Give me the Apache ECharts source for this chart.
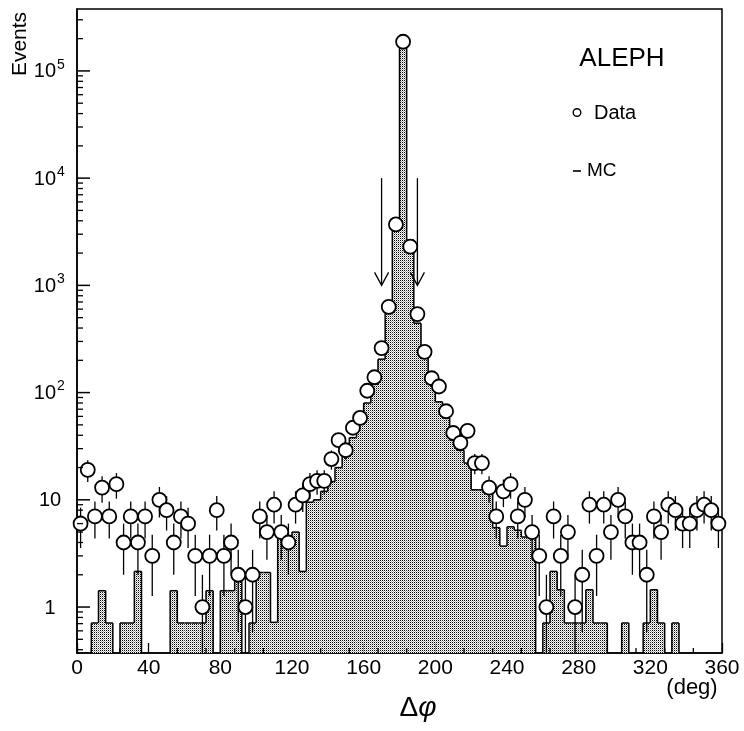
<!DOCTYPE html>
<html><head><meta charset="utf-8">
<script src="https://cdn.jsdelivr.net/npm/echarts/dist/echarts.min.js"></script>
<style>html,body{margin:0;padding:0;background:#fff}#c{width:744px;height:731px}</style>
</head><body><div id="c"></div>
<script>
// ---- data ----
const binWidth = 4;
const binLow = [0,4,8,12,16,20,24,28,32,36,40,44,48,52,56,60,64,68,72,76,80,84,88,92,96,100,104,108,112,116,
  120,124,128,132,136,140,144,148,152,156,160,164,168,172,176,180,184,188,192,196,200,204,208,212,216,220,224,228,232,236,
  240,244,248,252,256,260,264,268,272,276,280,284,288,292,296,300,304,308,312,316,320,324,328,332,336,340,344,348,352,356];
const dataCounts = [6,19,7,13,7,14,4,7,4,7,
  3,10,8,4,7,6,3,1,3,8,
  3,4,2,1,2,7,5,9,5,4,
  9,11,14,15,15,24,36,29,47,58,
  104,139,260,630,3700,187000,2300,540,240,136,
  114,67,42,34,44,22,22,13,7,12,
  14,7,10,5,3,1,7,3,5,1,
  2,9,3,9,5,10,7,4,4,2,
  7,5,9,8,6,6,8,9,8,6];
const mcValues = [0,0,0.71,1.42,0.71,0,0.71,0.71,2.15,0,
  0,0,0,1.42,0.71,0.71,0.71,0.71,1.42,0,
  1.42,1.42,2.1,0,0.71,2.1,2.1,0.72,5,3.7,
  5,2.15,9.5,10,12,14.8,20,27,38,52,
  80,120,205,680,3300,170000,2650,444,209,131,
  82,58,36,29,22,12.4,12.4,12.4,5.5,3.7,
  5.6,5.2,4.5,4.5,0,0.71,2.15,1.45,0.71,0.71,
  0.71,1.45,0.71,0.71,0,0,0.71,0,0,0.71,
  1.45,0.71,0,0.71,0,0,0,0,0,0];
const yMajorTicks = [1,10,100,1000,10000,100000];
const yMajorBase = ['1','10','10','10','10','10'];
const yMajorExp = ['','','2','3','4','5'];
const yMinorTicks = [0.4,0.5,0.6,0.7,0.8,0.9,2,3,4,5,6,7,8,9,20,30,40,50,60,70,80,90,
  200,300,400,500,600,700,800,900,2000,3000,4000,5000,6000,7000,8000,9000,
  20000,30000,40000,50000,60000,70000,80000,90000,200000,300000];
const xMinorTicks = [8,24,56,72,88,104,136,152,168,184,216,232,248,264,296,312,328,344];
const cutPositions = [170,190];
const cutArrowFrom = 10000, cutArrowTo = 1000;
const yMin = 0.3727, yMax = 378000;

// ---- pattern for MC fill ----
const pc = document.createElement('canvas'); pc.width = 2; pc.height = 2;
const g = pc.getContext('2d');
g.fillStyle = '#fff'; g.fillRect(0,0,2,2);
g.fillStyle = '#000'; g.fillRect(0,0,1,1);
g.fillStyle = '#aaa'; g.fillRect(1,1,1,1);
const mcFill = {image: pc, repeat: 'repeat'};

const FONT = '"Liberation Sans", Arial, Helvetica, sans-serif';
const LW = 1.5;

function renderMC(params, api) {
  const i = params.dataIndex;
  const x0 = api.value(0), x1 = api.value(1), v = api.value(2);
  const pv = i > 0 ? mcValues[i-1] : 0;
  const cs = params.coordSys, bottom = cs.y + cs.height;
  const X0 = api.coord([x0, 1])[0], X1 = api.coord([x1, 1])[0];
  const yOf = val => val > 0 ? api.coord([x0, val])[1] : bottom;
  const yT = yOf(v), yP = yOf(pv);
  const ch = [];
  if (v > 0) {
    ch.push({type:'rect', shape:{x:X0, y:yT, width:X1-X0, height:bottom-yT}, style:{fill: mcFill}});
    ch.push({type:'line', shape:{x1:X0, y1:yT, x2:X1, y2:yT}, style:{stroke:'#000', lineWidth:LW}});
  }
  if (v > 0 || pv > 0) ch.push({type:'line', shape:{x1:X0, y1:yP, x2:X0, y2:yT}, style:{stroke:'#000', lineWidth:LW}});
  if (i === mcValues.length - 1 && v > 0) ch.push({type:'line', shape:{x1:X1, y1:yT, x2:X1, y2:bottom}, style:{stroke:'#000', lineWidth:LW}});
  return {type:'group', children: ch};
}
function renderErr(params, api) {
  const x = api.value(0), n = api.value(1), s = Math.sqrt(n);
  const cs = params.coordSys, bottom = cs.y + cs.height;
  const p = api.coord([x, n]);
  const top = api.coord([x, n + s])[1];
  const lo = (n - s) > yMin ? api.coord([x, n - s])[1] : bottom;
  return {type:'line', shape:{x1:p[0], y1:top, x2:p[0], y2:lo}, style:{stroke:'#000', lineWidth:1.3}};
}
function renderYMajor(params, api) {
  const i = params.dataIndex, v = api.value(1);
  const cs = params.coordSys, y = api.coord([0, v])[1];
  const ch = [{type:'line', shape:{x1:cs.x, y1:y, x2:cs.x+13, y2:y}, style:{stroke:'#000', lineWidth:LW}}];
  if (yMajorExp[i]) {
    ch.push({type:'text', style:{text:yMajorBase[i], x:cs.x-21, y:y+1, align:'right', verticalAlign:'middle', fontSize:20, fontFamily:FONT, fill:'#000'}});
    ch.push({type:'text', style:{text:yMajorExp[i], x:cs.x-20, y:y-6, align:'left', verticalAlign:'middle', fontSize:14, fontFamily:FONT, fill:'#000'}});
  } else {
    ch.push({type:'text', style:{text:yMajorBase[i], x:cs.x-27, y:y+1, align:'center', verticalAlign:'middle', fontSize:20, fontFamily:FONT, fill:'#000'}});
  }
  return {type:'group', children: ch};
}
function renderYMinor(params, api) {
  const cs = params.coordSys, y = api.coord([0, api.value(1)])[1];
  return {type:'line', shape:{x1:cs.x, y1:y, x2:cs.x+6, y2:y}, style:{stroke:'#000', lineWidth:1.3}};
}
function renderXMinor(params, api) {
  const cs = params.coordSys, bottom = cs.y + cs.height, x = api.coord([api.value(0), 1])[0];
  return {type:'line', shape:{x1:x, y1:bottom, x2:x, y2:bottom-5}, style:{stroke:'#000', lineWidth:1.3}};
}
function renderArrow(params, api) {
  const x = api.value(0);
  const a = api.coord([x, api.value(1)]), b = api.coord([x, api.value(2)]);
  return {type:'group', children:[
    {type:'line', shape:{x1:a[0], y1:a[1], x2:b[0], y2:b[1]}, style:{stroke:'#000', lineWidth:1.3}},
    {type:'polyline', shape:{points:[[b[0]-7, b[1]-13],[b[0], b[1]],[b[0]+7, b[1]-13]]}, style:{stroke:'#000', fill:null, lineWidth:1.3}}
  ]};
}

const chart = echarts.init(document.getElementById('c'), null, {renderer:'canvas'});
chart.setOption({
  animation: false,
  backgroundColor: '#fff',
  grid: {left:77, right:22, top:9, bottom:78, show:true, borderColor:'#000', borderWidth:LW, backgroundColor:'transparent'},
  xAxis: {type:'value', min:0, max:360, interval:40,
    axisLine:{show:true, lineStyle:{color:'#000', width:LW}},
    axisTick:{show:true, inside:true, length:10, lineStyle:{color:'#000', width:1.3}},
    axisLabel:{show:true, color:'#000', fontSize:21, fontFamily:FONT, margin:5},
    splitLine:{show:false}},
  yAxis: {type:'log', logBase:10, min:yMin, max:yMax,
    axisLine:{show:true, lineStyle:{color:'#000', width:LW}},
    axisTick:{show:false}, axisLabel:{show:false}, splitLine:{show:false}, minorTick:{show:false}},
  series: [
    {type:'custom', name:'MC', renderItem: renderMC, clip:true, z:2,
      encode:{x:[0,1], y:2},
      data: binLow.map((b,i) => [b, b + binWidth, mcValues[i]])},
    {type:'custom', name:'cut', renderItem: renderArrow, z:3, encode:{x:0, y:[1,2]},
      data: cutPositions.map(p => [p, cutArrowFrom, cutArrowTo])},
    {type:'custom', name:'errors', renderItem: renderErr, clip:true, z:4, encode:{x:0, y:1},
      data: binLow.map((b,i) => [b + binWidth/2, dataCounts[i]])},
    {type:'scatter', name:'Data', z:5, symbol:'circle', symbolSize:14,
      itemStyle:{color:'#fff', borderColor:'#000', borderWidth:1.8, opacity:1},
      data: binLow.map((b,i) => [b + binWidth/2, dataCounts[i]])},
    {type:'custom', name:'yMajor', renderItem: renderYMajor, clip:false, z:6, encode:{x:0, y:1},
      data: yMajorTicks.map(v => [0, v])},
    {type:'custom', name:'yMinor', renderItem: renderYMinor, clip:false, z:6, encode:{x:0, y:1},
      data: yMinorTicks.map(v => [0, v])},
    {type:'custom', name:'xMinor', renderItem: renderXMinor, clip:false, z:6, encode:{x:0, y:1},
      data: xMinorTicks.map(v => [v, 1])}
  ],
  graphic: [
    {type:'text', x:20, y:44, rotation:Math.PI/2, style:{text:'Events', fontSize:21, fontFamily:FONT, fill:'#000', align:'center', verticalAlign:'middle'}},
    {type:'text', x:622, y:59, style:{text:'ALEPH', fontSize:26, fontFamily:FONT, fill:'#000', align:'center', verticalAlign:'middle'}},
    {type:'circle', shape:{cx:577, cy:112.5, r:3.8}, style:{fill:'#fff', stroke:'#000', lineWidth:1.4}},
    {type:'text', x:594, y:113, style:{text:'Data', fontSize:20, fontFamily:FONT, fill:'#000', align:'left', verticalAlign:'middle'}},
    {type:'line', shape:{x1:573, y1:171, x2:581, y2:171}, style:{stroke:'#000', lineWidth:1.6}},
    {type:'text', x:587, y:171, style:{text:'MC', fontSize:19, fontFamily:FONT, fill:'#000', align:'left', verticalAlign:'middle'}},
    {type:'text', x:418, y:708, style:{text:'{a|Δ}{b|φ}', rich:{a:{fontSize:28, fontFamily:FONT, fill:'#000'}, b:{fontSize:28, fontFamily:FONT, fontStyle:'italic', fill:'#000'}}, align:'center', verticalAlign:'middle'}},
    {type:'text', x:692, y:688, style:{text:'(deg)', fontSize:22, fontFamily:FONT, fill:'#000', align:'center', verticalAlign:'middle'}}
  ]
});
</script></body></html>
